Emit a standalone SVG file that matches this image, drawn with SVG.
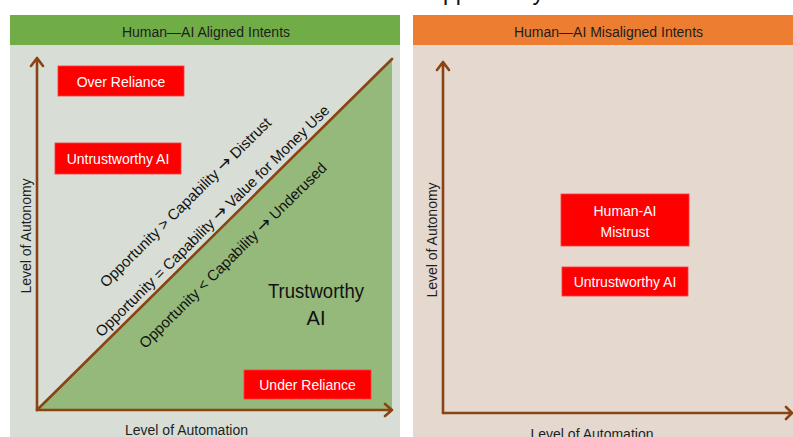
<svg xmlns="http://www.w3.org/2000/svg" width="793" height="437" viewBox="0 0 793 437">
<style>
.t{font-family:"Liberation Sans",Arial,sans-serif;}
.hdr{font-size:14px;fill:#1e1e1e;text-anchor:middle;}
.box{fill:#ff0000;stroke:#ff3b3b;stroke-width:0.8;}
.bt{font-size:14px;fill:#ffffff;text-anchor:middle;}
.ax{stroke:#8a4414;stroke-width:2.6;fill:none;stroke-linecap:round;stroke-linejoin:round;}
.lab{font-size:14px;fill:#1e1e1e;text-anchor:middle;}
.diag{font-size:15px;fill:#111;text-anchor:middle;}
.arr{font-family:"DejaVu Sans",sans-serif;font-size:17px;}
</style>
<rect x="0" y="0" width="793" height="437" fill="#ffffff"/>
<text class="t" x="425" y="-0.5" font-size="23" fill="#111">Opportunity</text>

<g id="panel-aligned">
<rect x="10" y="45" width="390" height="392" fill="#d8ded5"/>
<rect x="10" y="15" width="390" height="30" fill="#70ad47"/>
<text class="t hdr" x="206" y="36.5">Human—AI Aligned Intents</text>
<polygon points="37,410 392,59 392,410" fill="#94b97b"/>
</g>

<g id="panel-misaligned">
<rect x="413" y="45" width="390" height="392" fill="#e4d8cf"/>
<rect x="413" y="15" width="390" height="30" fill="#ed7d31"/>
<text class="t hdr" x="608.5" y="36.5">Human—AI Misaligned Intents</text>
</g>

<g id="connectors">
<line class="ax" x1="37" y1="410" x2="392" y2="59"/>
<path class="ax" d="M37,410 V58 M31,66 L37,58 L43,66"/>
<path class="ax" d="M37,410 H392 M385,404 L392,410 L385,416"/>
<path class="ax" d="M443,413 V62 M437,70 L443,62 L449,70"/>
<path class="ax" d="M443,413 H792 M786,407 L792,413 L786,419"/>
</g>

<g id="axis-labels">
<text class="t lab" transform="translate(31,236) rotate(-90)">Level of Autonomy</text>
<text class="t lab" x="186.5" y="435">Level of Automation</text>
<text class="t lab" transform="translate(437,240) rotate(-90)">Level of Autonomy</text>
<text class="t lab" x="592" y="439">Level of Automation</text>
</g>

<g id="diagonal-labels">
<text class="t diag" transform="translate(185.5,202.5) rotate(-44.7)" y="5">Opportunity &gt; Capability <tspan class="arr">→</tspan> Distrust</text>
<text class="t diag" transform="translate(212.5,221) rotate(-44.7)" y="5">Opportunity = Capability <tspan class="arr">→</tspan> Value for Money Use</text>
<text class="t diag" transform="translate(233,255.5) rotate(-44.7)" y="5">Opportunity &lt; Capability <tspan class="arr">→</tspan> Underused</text>
</g>

<g id="over-reliance">
<rect class="box" x="58" y="66" width="126" height="30"/>
<text class="t bt" x="121" y="86.5">Over Reliance</text>
</g>
<g id="untrustworthy-left">
<rect class="box" x="55" y="143" width="126" height="31"/>
<text class="t bt" x="118" y="163.5">Untrustworthy AI</text>
</g>
<g id="under-reliance">
<rect class="box" x="244" y="370" width="127" height="29"/>
<text class="t bt" x="307.5" y="390">Under Reliance</text>
</g>
<g id="trustworthy-ai">
<text class="t" x="316" y="298" font-size="20" fill="#111" text-anchor="middle" textLength="96" lengthAdjust="spacingAndGlyphs">Trustworthy</text>
<text class="t" x="316" y="325" font-size="20" fill="#111" text-anchor="middle">AI</text>
</g>
<g id="human-ai-mistrust">
<rect class="box" x="561" y="194" width="128" height="52"/>
<text class="t bt" x="625" y="216">Human-AI</text>
<text class="t bt" x="625" y="237">Mistrust</text>
</g>
<g id="untrustworthy-right">
<rect class="box" x="562" y="267" width="126" height="29"/>
<text class="t bt" x="625" y="286.5">Untrustworthy AI</text>
</g>
</svg>
